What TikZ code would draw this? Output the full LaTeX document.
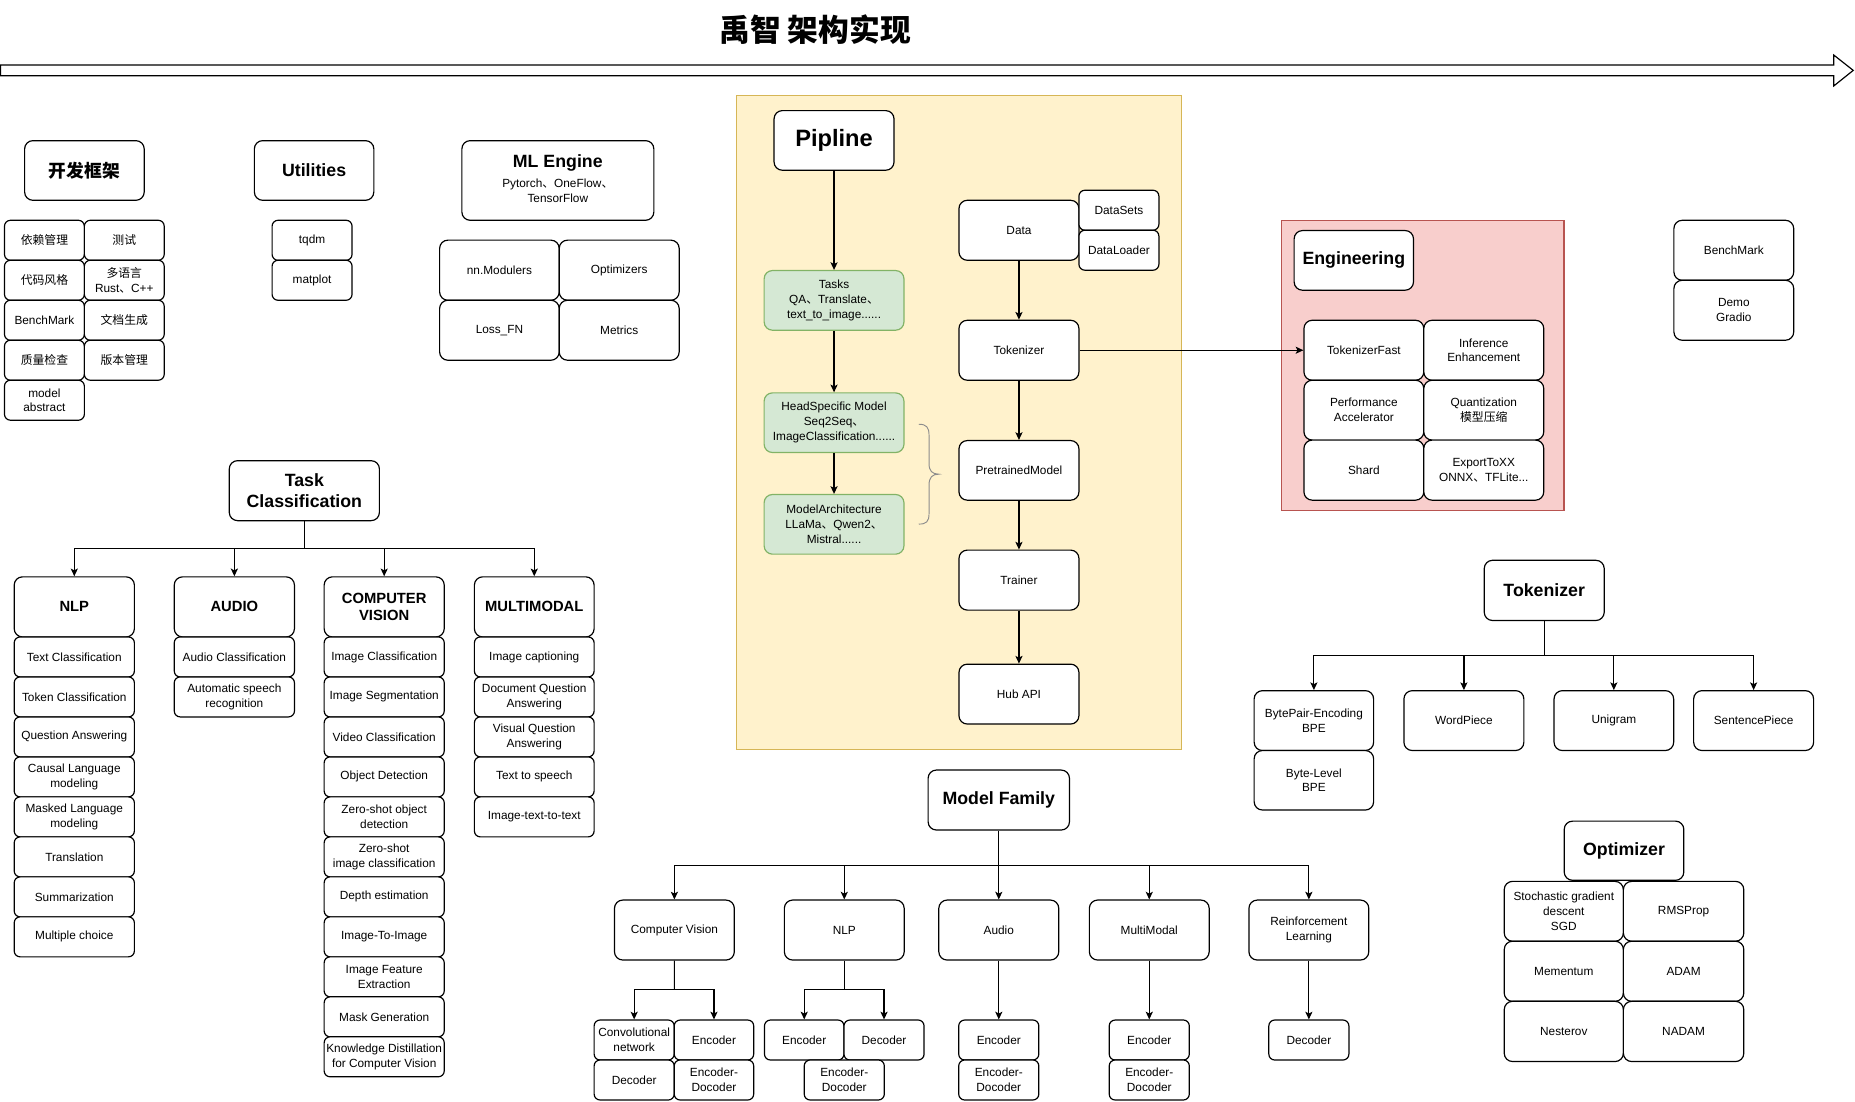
\documentclass[tikz,border=0pt]{standalone}
\usepackage{fontspec}
\setmainfont{Liberation Sans}
\newfontfamily\cjk{Noto Sans CJK SC}
\usetikzlibrary{arrows.meta}
\newcommand\zhs[1]{{\cjk #1}}
\definecolor{yelF}{HTML}{FFF2CC}
\definecolor{yelD}{HTML}{D6B656}
\definecolor{redF}{HTML}{F8CECC}
\definecolor{redD}{HTML}{B85450}
\definecolor{grnF}{HTML}{D5E8D4}
\definecolor{grnD}{HTML}{82B366}
% box from corner (x1,y1) to (x2,y2): style, name, x1, y1, x2, y2, text
\newcommand\mkbox[7]{\node[#1, minimum width={(#5)-(#3)}, minimum height={(#6)-(#4)}] (#2) at ({((#3)+(#5))/2},{((#4)+(#6))/2}) {#7};}
\tikzset{
  bx/.style={draw, line width=1pt, rounded corners=5pt, fill=white, inner sep=1pt, align=center, font=\fontsize{10}{12.5}\selectfont},
  bigbx/.style={bx, rounded corners=7pt},
  hd/.style={bigbx, font=\fontsize{15}{18}\selectfont\bfseries},
  hdm/.style={bigbx, font=\fontsize{12.5}{15}\selectfont\bfseries},
  grn/.style={bigbx, fill=grnF, draw=grnD},
  arr/.style={line width=1pt, -{Stealth[length=6.5pt,width=6pt,inset=1.5pt]}},
  ln/.style={line width=1pt},
}
\begin{document}
\begin{tikzpicture}[x=1pt,y=-1pt]
\useasboundingbox (0,0) rectangle (1568,931);

% heading and timeline arrow
\node[font=\cjk\bfseries\fontsize{26}{30}\selectfont] (title) at (689,25) {禹智 架构实现};
\draw[ln, fill=white] (0.5,55) -- (1550,55) -- (1550,46.5) -- (1566.5,59.5) -- (1550,72.7) -- (1550,64) -- (0.5,64) -- cycle;

% development framework
\mkbox{hd, font=\cjk\bfseries\fontsize{15}{18}\selectfont}{kf}{20.8}{118.9}{121.9}{169.3}{开发框架}
\mkbox{bx}{kf1}{3.8}{186.2}{71.3}{220}{\zhs{依赖管理}}
\mkbox{bx}{kf2}{71.3}{186.2}{138.8}{220}{\zhs{测试}}
\mkbox{bx}{kf3}{3.8}{220}{71.3}{253.8}{\zhs{代码风格}}
\mkbox{bx}{kf4}{71.3}{220}{138.8}{253.8}{\zhs{多语言}\\Rust\zhs{、}C++}
\mkbox{bx}{kf5}{3.8}{253.8}{71.3}{287.6}{BenchMark}
\mkbox{bx}{kf6}{71.3}{253.8}{138.8}{287.6}{\zhs{文档生成}}
\mkbox{bx}{kf7}{3.8}{287.6}{71.3}{321.4}{\zhs{质量检查}}
\mkbox{bx}{kf8}{71.3}{287.6}{138.8}{321.4}{\zhs{版本管理}}
\mkbox{bx}{kf9}{3.8}{321.4}{71.3}{355.2}{model\\abstract}

% utilities
\mkbox{hd}{ut}{215}{118.9}{316}{169.3}{Utilities}
\mkbox{bx}{ut1}{230}{186.2}{297.6}{220}{tqdm}
\mkbox{bx}{ut2}{230}{220}{297.6}{253.8}{matplot}

% ML engine
\mkbox{bigbx}{mle}{390.4}{118.9}{552.7}{186.2}{}
\node[font=\fontsize{15}{18}\selectfont\bfseries] (mlet) at (471.5,137.5) {ML Engine};
\node[align=center, font=\fontsize{10}{12.7}\selectfont] (mles) at (471.5,161) {Pytorch\zhs{、}OneFlow\zhs{、}\\TensorFlow};
\mkbox{bigbx}{ml1}{371.6}{203}{472.7}{253.8}{nn.Modulers}
\mkbox{bigbx}{ml2}{472.7}{203}{574.1}{253.8}{Optimizers}
\mkbox{bigbx}{ml3}{371.6}{253.8}{472.7}{304.5}{Loss\_FN}
\mkbox{bigbx}{ml4}{472.7}{253.8}{574.1}{304.5}{Metrics}

% pipeline panel
\mkbox{draw=yelD, fill=yelF, line width=1pt}{pipe}{622.5}{80.6}{999}{633.8}{}
\mkbox{bigbx, font=\fontsize{20}{24}\selectfont\bfseries}{pip}{654.3}{93.5}{755.7}{143.9}{Pipline}
\mkbox{grn}{tasks}{645.9}{228.7}{764.1}{279.1}{Tasks\\QA\zhs{、}Translate\zhs{、}\\text\_to\_image......}
\mkbox{grn}{hsm}{645.9}{332.1}{764.1}{382.5}{HeadSpecific Model\\Seq2Seq\zhs{、}\\ImageClassification......}
\mkbox{grn}{march}{645.9}{418}{764.1}{468.4}{ModelArchitecture\\LLaMa\zhs{、}Qwen2\zhs{、}\\Mistral......}
\draw[arr] (pip) -- (tasks);
\draw[arr] (tasks) -- (hsm);
\draw[arr] (hsm) -- (march);
\draw[black!45, line width=0.8pt] (776.6,358.6) .. controls (783,358.6) and (785.3,361) .. (785.3,368) -- (785.3,392) .. controls (785.3,398) and (788,400.8) .. (793.5,400.8) .. controls (788,400.8) and (785.3,403.5) .. (785.3,410) -- (785.3,434) .. controls (785.3,441) and (783,443) .. (776.6,443);

\mkbox{bigbx}{data}{810.6}{169.3}{912}{220}{Data}
\mkbox{bx}{dsets}{912}{160.8}{979.6}{194.6}{DataSets}
\mkbox{bx}{dload}{912}{194.6}{979.6}{228.4}{DataLoader}
\mkbox{bigbx}{ptok}{810.6}{270.7}{912}{321.4}{Tokenizer}
\mkbox{bigbx}{pre}{810.6}{372.4}{912}{422.8}{PretrainedModel}
\mkbox{bigbx}{trn}{810.6}{465}{912}{515.7}{Trainer}
\mkbox{bigbx}{hub}{810.6}{561.4}{912}{612}{Hub API}
\draw[arr] (data) -- (ptok);
\draw[arr] (ptok) -- (pre);
\draw[arr] (pre) -- (trn);
\draw[arr] (trn) -- (hub);

% engineering panel
\mkbox{draw=redD, fill=redF, line width=1pt}{eng}{1083}{186.2}{1322}{431.2}{}
\mkbox{hd}{engt}{1093.9}{194.9}{1194.8}{245.3}{Engineering}
\mkbox{bigbx}{tf}{1102.2}{270.7}{1203.5}{321.4}{TokenizerFast}
\mkbox{bigbx}{inf}{1203.5}{270.7}{1304.9}{321.4}{Inference\\Enhancement}
\mkbox{bigbx}{perf}{1102.2}{321.4}{1203.5}{372}{Performance\\Accelerator}
\mkbox{bigbx}{quant}{1203.5}{321.4}{1304.9}{372}{Quantization\\\zhs{模型压缩}}
\mkbox{bigbx}{shard}{1102.2}{372}{1203.5}{422.8}{Shard}
\mkbox{bigbx}{exp}{1203.5}{372}{1304.9}{422.8}{ExportToXX\\ONNX\zhs{、}TFLite...}
\draw[arr] (ptok) -- (tf);

\mkbox{bigbx}{bench}{1414.9}{186.2}{1516.2}{236.9}{BenchMark}
\mkbox{bigbx}{demo}{1414.9}{236.9}{1516.2}{287.6}{Demo\\Gradio}

% task classification tree
\mkbox{hd, font=\fontsize{15}{18.3}\selectfont\bfseries}{tc}{193.8}{389.4}{320.7}{440.1}{Task\\Classification}
\mkbox{hdm}{nlph}{12}{487.6}{113.6}{538.4}{NLP}
\mkbox{hdm}{audh}{147.3}{487.6}{248.9}{538.4}{AUDIO}
\mkbox{hdm}{cvh}{274}{487.6}{375.5}{538.4}{COMPUTER\\VISION}
\mkbox{hdm}{mmh}{401}{487.6}{502.2}{538.4}{MULTIMODAL}
\coordinate (tcb) at (257.25,463.7);
\draw[ln] (tc.south) -- (tcb);
\draw[arr] (tcb) -| (nlph.north);
\draw[arr] (tcb) -| (audh.north);
\draw[arr] (tcb) -| (cvh.north);
\draw[arr] (tcb) -| (mmh.north);

\mkbox{bx}{nlp1}{12}{538.4}{113.6}{572.2}{Text Classification}
\mkbox{bx}{nlp2}{12}{572.2}{113.6}{606}{Token Classification}
\mkbox{bx}{nlp3}{12}{606}{113.6}{639.8}{Question Answering}
\mkbox{bx}{nlp4}{12}{639.8}{113.6}{673.6}{Causal Language\\modeling}
\mkbox{bx}{nlp5}{12}{673.6}{113.6}{707.4}{Masked Language\\modeling}
\mkbox{bx}{nlp6}{12}{707.4}{113.6}{741.2}{Translation}
\mkbox{bx}{nlp7}{12}{741.2}{113.6}{775}{Summarization}
\mkbox{bx}{nlp8}{12}{775}{113.6}{808.8}{Multiple choice}

\mkbox{bx}{aud1}{147.3}{538.4}{248.9}{572.2}{Audio Classification}
\mkbox{bx}{aud2}{147.3}{572.2}{248.9}{606}{Automatic speech\\recognition}

\mkbox{bx}{cv1}{274}{538.4}{375.5}{572.2}{Image Classification}
\mkbox{bx}{cv2}{274}{572.2}{375.5}{606}{Image Segmentation}
\mkbox{bx}{cv3}{274}{606}{375.5}{639.8}{Video Classification}
\mkbox{bx}{cv4}{274}{639.8}{375.5}{673.6}{Object Detection}
\mkbox{bx}{cv5}{274}{673.6}{375.5}{707.4}{Zero-shot object\\detection}
\mkbox{bx}{cv6}{274}{707.4}{375.5}{741.2}{Zero-shot\\image classification}
\mkbox{bx}{cv7}{274}{741.2}{375.5}{775}{Depth estimation}
\mkbox{bx}{cv8}{274}{775}{375.5}{808.8}{Image-To-Image}
\mkbox{bx}{cv9}{274}{808.8}{375.5}{842.6}{Image Feature\\Extraction}
\mkbox{bx}{cv10}{274}{842.6}{375.5}{876.4}{Mask Generation}
\mkbox{bx}{cv11}{274}{876.4}{375.5}{910.2}{Knowledge Distillation\\for Computer Vision}

\mkbox{bx}{mm1}{401}{538.4}{502.2}{572.2}{Image captioning}
\mkbox{bx}{mm2}{401}{572.2}{502.2}{606}{Document Question\\Answering}
\mkbox{bx}{mm3}{401}{606}{502.2}{639.8}{Visual Question\\Answering}
\mkbox{bx}{mm4}{401}{639.8}{502.2}{673.6}{Text to speech}
\mkbox{bx}{mm5}{401}{673.6}{502.2}{707.4}{Image-text-to-text}

% model family tree
\mkbox{hd}{mf}{784.5}{650.9}{904}{701.6}{Model Family}
\mkbox{bigbx}{mfcv}{519.4}{760.8}{620.7}{811.5}{Computer Vision}
\mkbox{bigbx}{mfnlp}{663}{760.8}{764.3}{811.5}{NLP}
\mkbox{bigbx}{mfau}{793.55}{760.8}{894.95}{811.5}{Audio}
\mkbox{bigbx}{mfmm}{920.8}{760.8}{1022.1}{811.5}{MultiModal}
\mkbox{bigbx}{mfrl}{1055.7}{760.8}{1157}{811.5}{Reinforcement\\Learning}
\coordinate (mfb) at (844.25,731.5);
\draw[ln] (mf.south) -- (mfb);
\draw[arr] (mfb) -| (mfcv.north);
\draw[arr] (mfb) -| (mfnlp.north);
\draw[arr] (mfb) -- (mfau.north);
\draw[arr] (mfb) -| (mfmm.north);
\draw[arr] (mfb) -| (mfrl.north);

\mkbox{bx}{conv}{502.2}{862.2}{569.9}{896}{Convolutional\\network}
\mkbox{bx}{cvenc}{569.9}{862.2}{637.1}{896}{Encoder}
\mkbox{bx}{cvdec}{502.2}{896}{569.9}{929.8}{Decoder}
\mkbox{bx}{cved}{569.9}{896}{637.1}{929.8}{Encoder-\\Docoder}
\coordinate (cvb) at (570.05,836.6);
\draw[ln] (mfcv.south) -- (cvb);
\draw[arr] (cvb) -| (conv.north);
\draw[arr] (cvb) -| (cvenc.north);

\mkbox{bx}{nlenc}{646.2}{862.2}{713.4}{896}{Encoder}
\mkbox{bx}{nldec}{713.4}{862.2}{781.1}{896}{Decoder}
\mkbox{bx}{nled}{679.8}{896}{747.5}{929.8}{Encoder-\\Docoder}
\coordinate (nlb) at (713.65,836.6);
\draw[ln] (mfnlp.south) -- (nlb);
\draw[arr] (nlb) -| (nlenc.north);
\draw[arr] (nlb) -| (nldec.north);

\mkbox{bx}{auenc}{810.4}{862.2}{878.1}{896}{Encoder}
\mkbox{bx}{aued}{810.4}{896}{878.1}{929.8}{Encoder-\\Docoder}
\draw[arr] (mfau) -- (auenc);

\mkbox{bx}{mmenc}{937.6}{862.2}{1005.3}{896}{Encoder}
\mkbox{bx}{mmed}{937.6}{896}{1005.3}{929.8}{Encoder-\\Docoder}
\draw[arr] (mfmm) -- (mmenc);

\mkbox{bx}{rldec}{1072.5}{862.2}{1140.2}{896}{Decoder}
\draw[arr] (mfrl) -- (rldec);

% tokenizer tree
\mkbox{hd}{tk}{1254.6}{473.6}{1356}{524.5}{Tokenizer}
\mkbox{bigbx}{bpe}{1060.1}{583.8}{1161.1}{634.4}{BytePair-Encoding\\BPE}
\mkbox{bigbx}{blbpe}{1060.1}{634.4}{1161.1}{684.7}{Byte-Level\\BPE}
\mkbox{bigbx}{wp}{1186.7}{583.8}{1288.1}{634.4}{WordPiece}
\mkbox{bigbx}{ug}{1313.6}{583.8}{1414.7}{634.4}{Unigram}
\mkbox{bigbx}{sp}{1431.6}{583.8}{1533}{634.4}{SentencePiece}
\coordinate (tkb) at (1305.3,554.1);
\draw[ln] (tk.south) -- (tkb);
\draw[arr] (tkb) -| (bpe.north);
\draw[arr] (tkb) -| (wp.north);
\draw[arr] (tkb) -| (ug.north);
\draw[arr] (tkb) -| (sp.north);

% optimizer group
\mkbox{hd}{opt}{1322.2}{694.1}{1423.3}{744.1}{Optimizer}
\mkbox{bigbx, font=\fontsize{10}{12.3}\selectfont}{sgd}{1271.5}{745}{1372.2}{795.6}{Stochastic gradient\\descent\\SGD}
\mkbox{bigbx}{rms}{1372.2}{745}{1474}{795.6}{RMSProp}
\mkbox{bigbx}{mom}{1271.5}{795.6}{1372.2}{846.4}{Mementum}
\mkbox{bigbx}{adam}{1372.2}{795.6}{1474}{846.4}{ADAM}
\mkbox{bigbx}{nes}{1271.5}{846.4}{1372.2}{897.3}{Nesterov}
\mkbox{bigbx}{nadam}{1372.2}{846.4}{1474}{897.3}{NADAM}
\end{tikzpicture}
\end{document}
